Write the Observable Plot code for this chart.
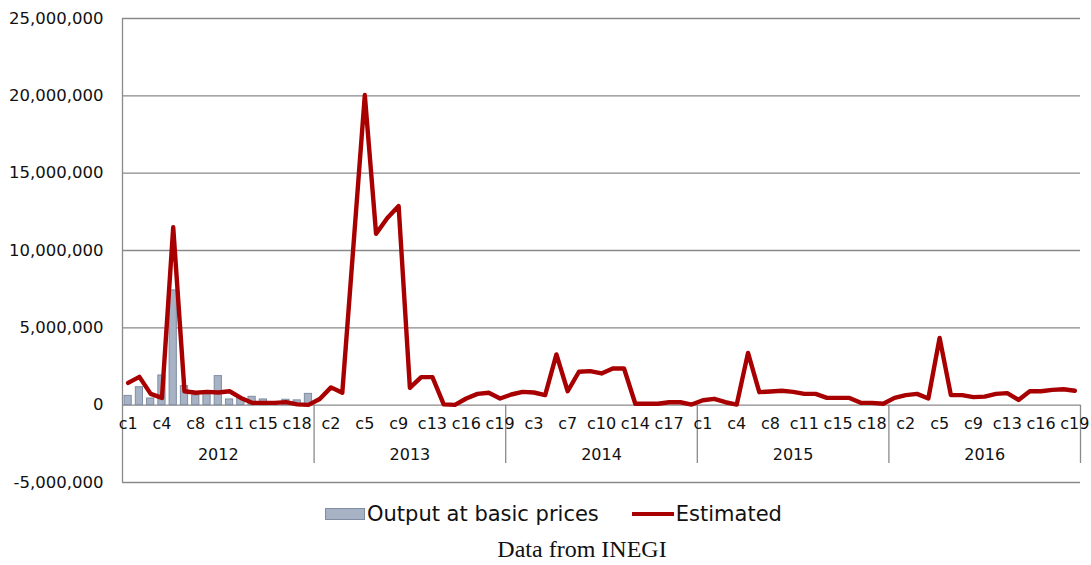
<!DOCTYPE html>
<html>
<head>
<meta charset="utf-8">
<script src="https://cdn.jsdelivr.net/npm/d3@7"></script>
<script src="https://cdn.jsdelivr.net/npm/@observablehq/plot@0.6"></script>
<style>
  html, body { margin: 0; padding: 0; background: #fff; }
  #wrap { position: relative; width: 1091px; height: 565px; }
  #legend { position: absolute; top: 502px; left: 325px; display: flex; align-items: center;
            font-family: "DejaVu Sans", sans-serif; font-size: 21px; color: #111; white-space: nowrap; }
  .sw-bar { width: 38px; height: 10px; background: #A7B2C4; border: 1px solid #7E8DA3; margin-right: 2px; }
  .sw-line { width: 42px; height: 4px; background: #A80000; margin-left: 33px; margin-right: 2px; }
  #caption { position: absolute; top: 536px; left: 0; width: 1164px; text-align: center;
             font-family: "Liberation Serif", "Times New Roman", serif; font-size: 24px; color: #111; }
</style>
</head>
<body>
<div id="wrap">
  <div id="chart"></div>
  <div id="legend"><span class="sw-bar"></span>Output at basic prices<span class="sw-line"></span>Estimated</div>
  <div id="caption">Data from INEGI</div>
</div>
<script>
const years = [2012, 2013, 2014, 2015, 2016];
const cats = ["c1","c2","c3","c4","c5","c7","c8","c9","c10","c11","c13","c14","c15","c16","c17","c18","c19"];
const yTicks = [-5000000, 0, 5000000, 10000000, 15000000, 20000000, 25000000];

const output2012 = [600000, 1160000, 430000, 1920000, 7420000, 1230000, 630000, 700000, 1880000, 370000, 450000, 540000, 370000, 100000, 350000, 310000, 730000];

const est2012 = [1440000, 1830000, 730000, 470000, 11500000, 900000, 800000, 860000, 820000, 900000, 470000, 150000, 150000, 150000, 200000, 50000, 20000];
const est2013 = [400000, 1150000, 800000, 10400000, 20050000, 11080000, 12100000, 12870000, 1120000, 1810000, 1810000, 50000, 20000, 430000, 730000, 800000, 430000];
const est2014 = [690000, 860000, 820000, 650000, 3280000, 900000, 2160000, 2200000, 2050000, 2370000, 2370000, 90000, 90000, 90000, 190000, 190000, 40000];
const est2015 = [320000, 410000, 190000, 40000, 3380000, 840000, 880000, 930000, 860000, 730000, 730000, 470000, 470000, 470000, 150000, 150000, 90000];
const est2016 = [470000, 650000, 730000, 430000, 4350000, 650000, 650000, 520000, 550000, 730000, 780000, 340000, 900000, 900000, 990000, 1030000, 930000];

const estByYear = {2012: est2012, 2013: est2013, 2014: est2014, 2015: est2015, 2016: est2016};

const rows = [];
years.forEach(y => cats.forEach((c, j) => {
  rows.push({year: y, cat: c, key: y + " " + c, est: estByYear[y][j],
             output: y === 2012 ? output2012[j] : null});
}));
const keys = rows.map(d => d.key);
const tickRows = rows.filter((d, i) => i % 3 === 0);
const yearRows = years.map(y => ({year: String(y), key: y + " " + cats[8]}));
const yearStarts = years.map(y => ({key: y + " " + cats[0]}));

const W = 1091, mL = 122, mR = 11;
const step = (W - mL - mR) / keys.length;
const fmt = d => d.toLocaleString("en-US");

const chart = Plot.plot({
  width: W,
  height: 495,
  marginTop: 18,
  marginBottom: 13,
  marginLeft: mL,
  marginRight: mR,
  style: {fontFamily: "DejaVu Sans, sans-serif", background: "#fff", overflow: "visible", color: "#111"},
  x: {type: "band", domain: keys, paddingInner: 0.36, paddingOuter: 0.18, round: false, axis: null},
  y: {domain: [-5000000, 25000000], axis: null},
  marks: [
    Plot.ruleY(yTicks, {stroke: "#8a8a8a", strokeWidth: 1.3}),
    Plot.ruleX([keys[0]], {dx: -step / 2, stroke: "#8a8a8a", strokeWidth: 1.3}),
    Plot.ruleX(yearStarts.slice(1), {x: "key", y1: () => 0, y2: () => -5000000, insetBottom: 19, dx: -step / 2, stroke: "#8a8a8a", strokeWidth: 1.3}),
    Plot.ruleX([keys[keys.length - 1]], {y1: () => 0, y2: () => -5000000, insetBottom: 19, dx: step / 2, stroke: "#8a8a8a", strokeWidth: 1.3}),
    Plot.barY(rows.filter(d => d.output != null), {x: "key", y: "output", fill: "#A7B2C4", stroke: "#7E8DA3", strokeWidth: 1}),
    Plot.lineY(rows, {x: "key", y: "est", stroke: "#A80000", strokeWidth: 4.4, strokeLinejoin: "round"}),
    Plot.text(tickRows, {x: "key", y: () => 0, text: "cat", dy: 19, fontSize: 16, fill: "#111"}),
    Plot.text(yearRows, {x: "key", y: () => 0, text: "year", dy: 50, fontSize: 16, fill: "#111"}),
    Plot.axisY({ticks: yTicks, tickFormat: fmt, tickSize: 0, tickPadding: 19, fontSize: 16.5, fill: "#111"})
  ]
});
document.getElementById("chart").appendChild(chart);
</script>
</body>
</html>
